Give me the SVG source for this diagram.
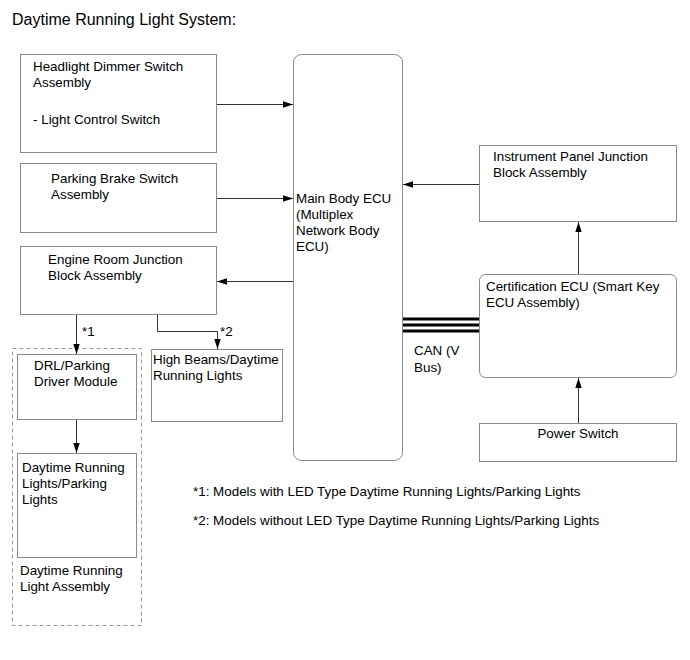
<svg xmlns="http://www.w3.org/2000/svg" width="690" height="660" viewBox="0 0 690 660">
<style>
text{font-family:"Liberation Sans",Arial,sans-serif;font-size:13.4px;fill:#000}
.title{font-size:16px}
.box{fill:#fff;stroke:#8a8a8a;stroke-width:1}
.dash{fill:none;stroke:#999;stroke-width:1;stroke-dasharray:4,3}
.ln{fill:none;stroke:#333;stroke-width:1}
.can{stroke:#000;stroke-width:3}
</style>
<defs>
<marker id="ah" viewBox="0 0 10 8" refX="10" refY="4" markerWidth="10" markerHeight="8" markerUnits="userSpaceOnUse" orient="auto">
<path d="M0,0.8 L10,4 L0,7.2 Z" fill="#000"/>
</marker>
</defs>
<rect width="690" height="660" fill="#fff"/>
<text class="title" x="12" y="25">Daytime Running Light System:</text>

<g id="headlight">
<rect class="box" x="20.5" y="54.5" width="196" height="98"/>
<text x="33" y="71">Headlight Dimmer Switch</text>
<text x="33" y="87">Assembly</text>
<text x="33" y="124">- Light Control Switch</text>
</g>
<g id="parking-brake">
<rect class="box" x="20.5" y="163.5" width="196" height="69"/>
<text x="51" y="183">Parking Brake Switch</text>
<text x="51" y="199">Assembly</text>
</g>
<g id="engine-room">
<rect class="box" x="20.5" y="246.5" width="196" height="68"/>
<text x="48" y="264">Engine Room Junction</text>
<text x="48" y="280">Block Assembly</text>
</g>
<g id="main-body-ecu">
<rect class="box" x="293.5" y="54.5" width="109" height="406" rx="8" stroke="#777"/>
<text x="296" y="203">Main Body ECU</text>
<text x="296" y="219">(Multiplex</text>
<text x="296" y="235">Network Body</text>
<text x="296" y="251">ECU)</text>
</g>
<g id="high-beams">
<rect class="box" x="151.5" y="349.5" width="131" height="72"/>
<text x="153" y="364">High Beams/Daytime</text>
<text x="153" y="380">Running Lights</text>
</g>
<g id="drl-assembly">
<rect class="dash" x="12.5" y="348.5" width="129" height="277"/>
<text x="20" y="575">Daytime Running</text>
<text x="20" y="591">Light Assembly</text>
</g>
<g id="drl-module">
<rect class="box" x="17.5" y="354.5" width="119" height="65"/>
<text x="34" y="370">DRL/Parking</text>
<text x="34" y="386">Driver Module</text>
</g>
<g id="drl-lights">
<rect class="box" x="17.5" y="453.5" width="119" height="104"/>
<text x="22" y="472">Daytime Running</text>
<text x="22" y="488">Lights/Parking</text>
<text x="22" y="504">Lights</text>
</g>
<g id="instrument-panel">
<rect class="box" x="479.5" y="145.5" width="197" height="76"/>
<text x="493" y="161">Instrument Panel Junction</text>
<text x="493" y="177">Block Assembly</text>
</g>
<g id="certification-ecu">
<rect class="box" x="479.5" y="274.5" width="197" height="103" rx="6"/>
<text x="486" y="291">Certification ECU (Smart Key</text>
<text x="486" y="307">ECU Assembly)</text>
</g>
<g id="power-switch">
<rect class="box" x="479.5" y="423.5" width="197" height="38"/>
<text x="578" y="438" text-anchor="middle">Power Switch</text>
</g>

<g id="connectors">
<line class="ln" x1="217" y1="104.5" x2="293" y2="104.5" marker-end="url(#ah)"/>
<line class="ln" x1="217" y1="198.5" x2="293" y2="198.5" marker-end="url(#ah)"/>
<line class="ln" x1="293" y1="281.5" x2="217" y2="281.5" marker-end="url(#ah)"/>
<line class="ln" x1="479" y1="184.5" x2="403" y2="184.5" marker-end="url(#ah)"/>
<line class="ln" x1="578.5" y1="274" x2="578.5" y2="222" marker-end="url(#ah)"/>
<line class="ln" x1="578.5" y1="423" x2="578.5" y2="378" marker-end="url(#ah)"/>
<line class="ln" x1="76.5" y1="315" x2="76.5" y2="354" marker-end="url(#ah)"/>
<polyline class="ln" points="157.5,315 157.5,331.5 217.5,331.5 217.5,349" marker-end="url(#ah)"/>
<line class="ln" x1="76.5" y1="420" x2="76.5" y2="453" marker-end="url(#ah)"/>
<line class="can" x1="403" y1="319" x2="479" y2="319"/>
<line class="can" x1="403" y1="325" x2="479" y2="325"/>
<line class="can" x1="403" y1="331" x2="479" y2="331"/>
<text x="82" y="336">*1</text>
<text x="220" y="336">*2</text>
<text x="414" y="355">CAN (V</text>
<text x="414" y="372">Bus)</text>
</g>

<text x="193" y="496">*1: Models with LED Type Daytime Running Lights/Parking Lights</text>
<text x="193" y="525">*2: Models without LED Type Daytime Running Lights/Parking Lights</text>
</svg>
